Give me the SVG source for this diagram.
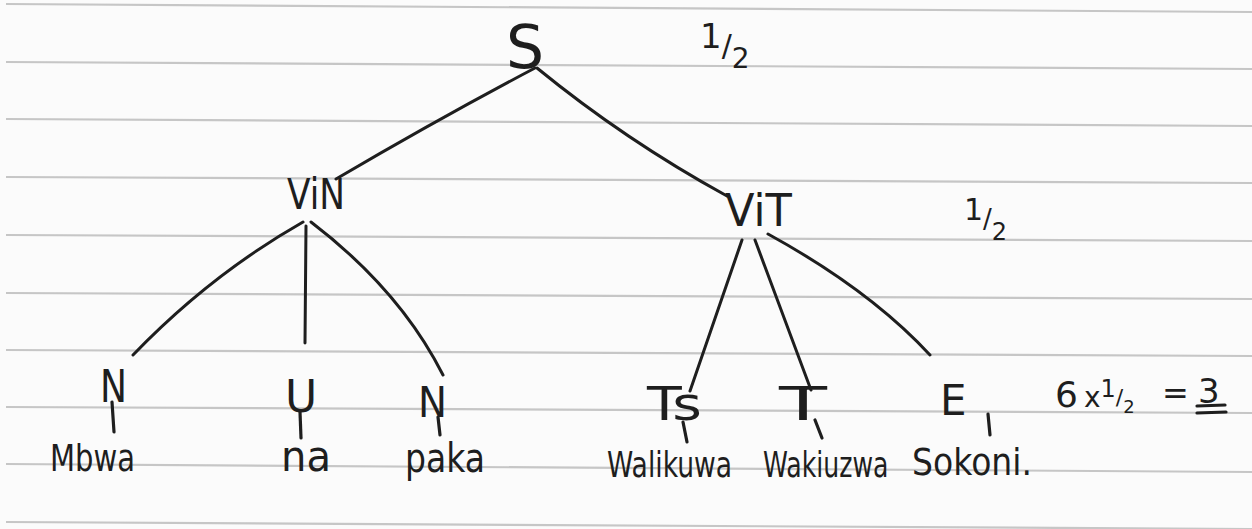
<svg xmlns="http://www.w3.org/2000/svg" width="1252" height="529" viewBox="0 0 1252 529">
<style>
.ruled{stroke:#c6c6c6;stroke-width:2.2;fill:none}
.edge{stroke:#1e1e1e;stroke-width:3;fill:none;stroke-linecap:round}
.tick{stroke:#1e1e1e;stroke-width:3.2;fill:none;stroke-linecap:round}
.lbl{font-family:"DejaVu Sans","Liberation Sans",sans-serif;fill:#1e1e1e}
.word{font-family:"DejaVu Sans","Liberation Sans",sans-serif;fill:#1e1e1e}
</style>
<rect x="0" y="0" width="1252" height="529" fill="#fbfbfb"/>
<g id="paper-lines">
<line class="ruled" x1="6" y1="4" x2="1252" y2="12"/>
<line class="ruled" x1="6" y1="62" x2="1252" y2="69"/>
<line class="ruled" x1="6" y1="119" x2="1252" y2="126"/>
<line class="ruled" x1="6" y1="177" x2="1252" y2="183"/>
<line class="ruled" x1="6" y1="235" x2="1252" y2="241"/>
<line class="ruled" x1="6" y1="293" x2="1252" y2="299"/>
<line class="ruled" x1="6" y1="350" x2="1252" y2="356"/>
<line class="ruled" x1="6" y1="407" x2="1252" y2="413"/>
<line class="ruled" x1="6" y1="464" x2="1252" y2="472"/>
<line class="ruled" x1="6" y1="522" x2="1252" y2="529"/>
</g>
<g id="connectors">
<path class="edge" d="M535 68 Q440 118 336 179"/>
<path class="edge" d="M537 68 Q625 140 727 196"/>
<path class="edge" d="M303 222 Q210 275 133 355"/>
<path class="edge" d="M306 226 L305 343"/>
<path class="edge" d="M311 222 Q400 290 443 375"/>
<path class="edge" d="M742 240 L690 391"/>
<path class="edge" d="M755 240 L811 390"/>
<path class="edge" d="M768 234 Q870 290 930 355"/>
<path class="tick" d="M112 402 L114 432"/>
<path class="tick" d="M300 412 L301 438"/>
<path class="tick" d="M438 417 L440 435"/>
<path class="tick" d="M683 422 L687 442"/>
<path class="tick" d="M815 420 L822 438"/>
<path class="tick" d="M988 414 L990 435"/>
</g>
<g id="node-S"><text class="lbl" x="506" y="68" font-size="60">S</text></g>
<g id="node-half-top"><text class="lbl" font-size="34"><tspan x="700" y="48">1</tspan><tspan font-size="30" dy="8">/</tspan><tspan font-size="28" dy="12">2</tspan></text></g>
<g id="node-ViN"><text class="lbl" x="287" y="209" font-size="42" textLength="58" lengthAdjust="spacingAndGlyphs">ViN</text></g>
<g id="node-ViT"><text class="lbl" x="725" y="226" font-size="44" textLength="67" lengthAdjust="spacingAndGlyphs">ViT</text></g>
<g id="node-half-mid"><text class="lbl" font-size="30"><tspan x="964" y="220">1</tspan><tspan font-size="26" dy="8">/</tspan><tspan font-size="24" dy="12">2</tspan></text></g>
<g id="node-N1"><text class="lbl" x="100" y="402" font-size="44" textLength="27" lengthAdjust="spacingAndGlyphs">N</text></g>
<g id="node-U"><text class="lbl" x="285" y="412" font-size="44">U</text></g>
<g id="node-N2"><text class="lbl" x="418" y="417" font-size="42" textLength="29" lengthAdjust="spacingAndGlyphs">N</text></g>
<g id="node-Ts"><text class="lbl" x="647" y="420" font-size="46" textLength="55" lengthAdjust="spacingAndGlyphs">Ts</text></g>
<g id="node-T"><text class="lbl" x="779" y="420" font-size="46" textLength="48" lengthAdjust="spacingAndGlyphs">T</text></g>
<g id="node-E"><text class="lbl" x="940" y="415" font-size="42">E</text></g>
<g id="node-calc">
<text class="lbl" font-size="36"><tspan x="1055" y="407">6</tspan><tspan dx="6" font-size="28">x</tspan><tspan font-size="24" dy="-10">1</tspan><tspan font-size="22" dy="8">/</tspan><tspan font-size="18" dy="8">2</tspan><tspan x="1162" y="404" font-size="32">=</tspan><tspan x="1198" y="403" font-size="34">3</tspan></text>
<line class="tick" x1="1197" y1="406" x2="1225" y2="405"/>
<line class="tick" x1="1197" y1="413" x2="1226" y2="412"/>
</g>
<g id="word-Mbwa"><text class="word" x="50" y="471" font-size="38" textLength="85" lengthAdjust="spacingAndGlyphs">Mbwa</text></g>
<g id="word-na"><text class="word" x="281" y="471" font-size="42" textLength="50" lengthAdjust="spacingAndGlyphs">na</text></g>
<g id="word-paka"><text class="word" x="405" y="472" font-size="40" textLength="80" lengthAdjust="spacingAndGlyphs">paka</text></g>
<g id="word-Walikuwa"><text class="word" transform="translate(607 477) scale(0.76 1)" x="0" y="0" font-size="35">Walikuwa</text></g>
<g id="word-Wakiuzwa"><text class="word" transform="translate(763 477) scale(0.72 1)" x="0" y="0" font-size="35">Wakiuzwa</text></g>
<g id="word-Sokoni"><text class="word" x="912" y="475" font-size="38" textLength="120" lengthAdjust="spacingAndGlyphs">Sokoni.</text></g>
</svg>
